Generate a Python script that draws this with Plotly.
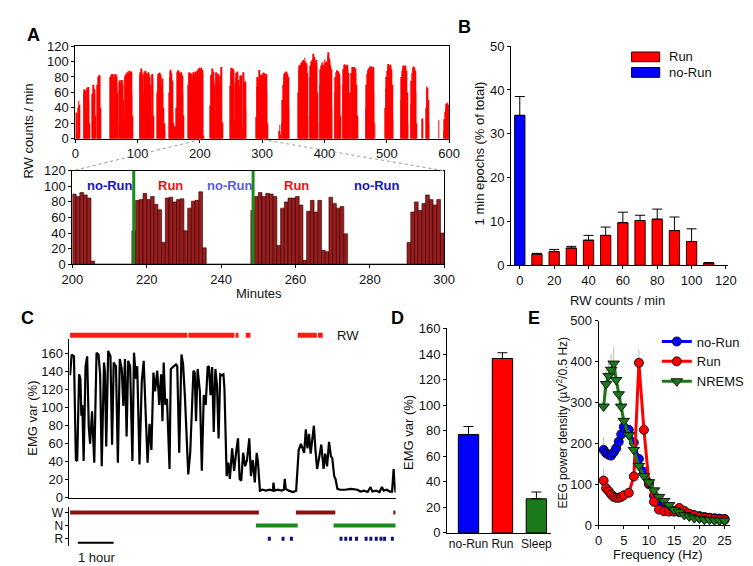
import plotly.graph_objects as go

W, H = 753, 566
FONT = "Liberation Sans, Arial, sans-serif"

# ---------------- A: running-wheel counts per minute (600 min) ----------------
bout_start = [1, 13, 27, 35, 56, 103, 131, 150, 181, 216, 248, 290, 327, 331,
              357, 376, 392, 416, 429, 442, 466, 497, 522, 538, 557, 563, 583, 591]
bout_counts = [
    [34, 30, 5, 40, 49, 44],
    [60, 64, 63, 62, 40, 64, 66, 67, 50, 20],
    [58, 70, 66, 64, 60, 30],
    [70, 80, 82, 82, 83, 40],
    [80, 83, 82, 84, 81, 83, 78, 82, 84, 80, 83, 60, 20, 0, 74, 76, 72, 76, 75, 70,
     76, 50, 30, 80, 82, 84, 86, 83, 87, 85, 88, 84, 86, 87, 60, 30, 0],
    [82, 86, 91, 88, 84, 80, 60, 86, 84, 88, 85, 82, 78, 84, 86, 80, 83, 70, 40, 82, 84, 78, 30],
    [60, 80, 84, 85, 86, 82, 84, 70, 78, 60, 40, 20, 10],
    [60, 80, 88, 90, 85, 75, 35, 20, 15, 14, 16, 15, 40, 86, 89, 88, 85, 87, 84, 80,
     86, 82, 60, 30, 0],
    [70, 84, 86, 85, 82, 84, 80, 83, 86, 82, 84, 87, 84, 86, 88, 85, 90, 87, 92,
     90, 87, 92, 89, 85, 4],
    [43, 82, 83, 91, 83, 87, 77, 70, 28, 85, 86, 80, 83, 84, 43, 72, 81, 82, 93, 21],
    [69, 87, 92, 87, 91, 90, 87, 24, 72, 80, 85, 85, 87, 76, 5, 68, 82, 67, 82, 18,
     16, 86, 78, 72, 74, 39],
    [28, 67, 80, 69, 78, 89, 83, 76, 83, 40, 82, 85, 86, 84, 85, 80, 84, 60, 20],
    [10, 18, 5],
    [20, 50, 70, 80, 84, 86, 85, 87, 86, 84, 80, 40],
    [60, 90, 95, 92, 96, 98, 94, 100, 97, 102, 99, 105, 100, 96, 98, 85, 30],
    [80, 95, 100, 97, 102, 104, 110, 106, 100, 98, 102, 95, 60, 20],
    [70, 90, 95, 98, 92, 100, 96, 94, 103, 98, 100, 95, 97, 108, 112, 104, 100, 95, 90, 40],
    [60, 80, 86, 89, 88, 85, 87, 84, 70, 30],
    [70, 90, 96, 97, 95, 92, 94, 96, 90, 85, 60, 20],
    [60, 85, 93, 90, 92, 93, 88, 91, 85, 70, 30],
    [40, 70, 84, 88, 90, 92, 94, 91, 93, 94, 90, 92, 93, 60, 20],
    [40, 65, 80, 88, 94, 97, 95, 92, 96, 94, 90, 70, 25],
    [50, 80, 88, 92, 95, 91, 93, 95, 90, 88, 60, 20],
    [45, 75, 85, 90, 93, 94, 92, 88, 60, 20],
    [26],
    [40, 68, 66, 50, 20],
    [24],
    [10, 25, 35, 40, 45, 47, 46, 44, 40],
]
minutes = list(range(600))
rw_counts = [0] * 600
for s, vals in zip(bout_start, bout_counts):
    rw_counts[s:s + len(vals)] = vals

zoom_from, zoom_to = 200, 300
run_switch_min = [216.5, 248.6]
state_labels = ["no-Run", "Run", "no-Run", "Run", "no-Run"]
state_label_min = [210, 226.5, 242.3, 260.4, 282]

# ---------------- B: distribution of 1-min epochs ----------------
norun_bin = [0]
norun_pct = [34.2]
norun_err = [4.3]
run_bins = [10, 20, 30, 40, 50, 60, 70, 80, 90, 100, 110]
run_pct = [2.5, 3.1, 3.9, 5.7, 6.8, 9.7, 10.2, 10.5, 7.9, 5.4, 0.5]
run_err = [0.2, 0.5, 0.4, 1.1, 1.9, 2.4, 1.2, 2.3, 3.1, 2.9, 0.1]

# ---------------- C: EMG variance trace, RW bouts, hypnogram ----------------
emg_t = [0, 2.7, 6.5, 8.1, 9.7, 11.9, 15.1, 17.3, 18.9, 20.5, 22.7, 25.9, 28.6, 31.3, 33.5,
         36.8, 40.5, 44.3, 47.6, 50.3, 53, 56.8, 58.4, 60.5, 63.8, 67.6, 70.3, 73, 76.8, 80,
         83.2, 86.5, 89.2, 91.9, 94.6, 97.3, 100.5, 104.3, 107, 110.3, 112.4, 116.2, 120,
         123.2, 127, 129.7, 133, 136.2, 139.5, 142.2, 145.9, 149.2, 152.4, 154.6, 156.7,
         159.4, 162.2, 166.5, 168.6, 173, 177.3, 179.4, 182.7, 186.5, 189.2, 192.4, 194.6,
         197.8, 201.1, 204.3, 206.5, 208.6, 210.8, 213.5, 217.3, 220.5, 223.8, 227, 230.3,
         232.4, 235.1, 237.8, 240.5, 243.2, 245.9, 248.6, 251.3, 254, 256.7, 258.4, 260.5,
         262.1, 264.8, 267.5, 271.3, 274.6, 278.4, 281.1, 283.8, 286.5, 289.7, 293, 296.2,
         300, 302.7, 305.9, 309.2, 312.4, 314.6, 317.8, 322, 328, 334, 339.4, 340.5, 342.1,
         348, 354, 357.8, 359.4, 361, 366, 373, 378.4, 382.7, 386.5, 391.9, 394.6, 397.3,
         400, 402.7, 405.4, 408.1, 410.8, 413.5, 417.3, 420.5, 424.3, 427, 430.2, 433.5,
         436.7, 438.9, 442.1, 444.3, 447.5, 452, 460, 470, 481, 486, 492, 498, 503, 506,
         512, 518, 522, 525, 530, 535, 539, 541.6, 543, 544.8]
emg_v = [136, 159, 157, 93, 42, 41, 137, 132, 91, 103, 41, 146, 157, 78, 60,
         96, 39, 161, 159, 137, 35, 150, 139, 57, 163, 157, 59, 150, 146, 39,
         154, 143, 102, 154, 68, 152, 146, 41, 161, 132, 146, 37, 129,
         152, 75, 39, 82, 53, 139, 118, 141, 103, 137, 85, 150,
         103, 110, 32, 143, 146, 148, 146, 50, 159, 148, 110, 68,
         26, 50, 118, 141, 139, 85, 143, 118, 30, 114, 103, 145,
         146, 114, 145, 73, 143, 125, 66, 137, 136, 137, 121, 64,
         24, 39, 21, 55, 30, 53, 66, 21, 19, 50, 35, 42,
         66, 24, 42, 17, 50, 39, 8, 9, 8, 9, 8, 17, 8,
         9, 8, 9, 21, 10, 8, 6.5, 8, 53, 60, 50, 76, 55,
         71, 49, 64, 80, 53, 32, 46, 59, 32, 49, 35, 62,
         46, 44, 24, 21, 10, 9, 9, 10, 9, 7, 8, 6.5, 12, 7,
         8, 6.5, 12, 8, 9, 7, 7, 32, 18, 6]

rw_seg_start = [0, 198, 277, 294, 381, 415]
rw_seg_end = [196, 275, 282, 302, 413, 423]

wake_start, wake_end = [0, 378, 541], [316, 444, 545]
nrem_start, nrem_end = [311, 441], [381, 545]
rem_start = [331, 354, 368, 451, 459, 467, 477, 493, 501, 510, 518, 524, 537]
rem_end = [336, 359, 373, 456, 464, 472, 482, 498, 506, 515, 523, 529, 542]
scale_bar_min = [13, 73]

# ---------------- D: EMG variance per state ----------------
state_names = ["no-Run", "Run", "Sleep"]
state_emg = [77, 136.5, 26.7]
state_emg_err = [6.3, 4.5, 5.3]
state_colors = ["#0000ff", "#ff0000", "#1a7a1a"]

# ---------------- E: EEG spectra ----------------
freq = [1, 1.5, 2, 2.5, 3, 3.5, 4, 4.5, 5, 6, 7, 8, 9, 10, 11, 12, 13, 14, 15, 16, 17,
        18, 19, 20, 21, 22, 23, 24, 25]
eeg_norun = [184, 176, 172, 170, 178, 188, 204, 222, 240, 233, 202, 162, 130, 100, 72, 55,
             45, 40, 35, 32, 29, 26, 24, 22, 20, 18, 17, 16, 15]
eeg_run = [109, 90, 83, 75, 69, 67, 67, 69, 73, 79, 119, 397, 233, 103, 57, 38, 34, 33, 33,
           42, 35, 28, 24, 20, 18, 17, 15, 14, 13]
eeg_nrem = [290, 345, 365, 380, 395, 355, 320, 290, 255, 220, 184, 145, 120, 105, 85, 69,
            59, 49, 37, 32, 25, 21, 17, 16, 13, 13, 12, 11, 11]
err_norun = [32, 20, 12, 8, 6, 6, 8, 10, 14, 10, 8, 6, 5, 4, 3, 2, 2, 2, 2, 1, 1, 1, 1, 1, 1, 1, 1, 1, 1]
err_run = [30, 15, 10, 8, 6, 5, 5, 5, 6, 6, 10, 33, 20, 8, 4, 3, 2, 2, 2, 2, 2, 1, 1, 1, 1, 1, 1, 1, 1]
err_nrem = [46, 35, 38, 40, 40, 30, 25, 20, 15, 12, 10, 8, 6, 5, 4, 3, 3, 2, 2, 2, 1, 1, 1, 1, 1, 1, 1, 1, 1]

TICK = 13


def fx(px):
    return px / W


def fy(py):
    return 1 - py / H


def axis(dom, rng, size=TICK, **kw):
    d = dict(domain=dom, range=rng, showline=True, linecolor="black", linewidth=1,
             ticks="outside", ticklen=3, tickcolor="black", showgrid=False, zeroline=False,
             tickfont=dict(size=size, color="#111", family=FONT), fixedrange=True)
    d.update(kw)
    return d


def segments(starts, ends, level):
    xs, ys = [], []
    for s, e in zip(starts, ends):
        xs += [s, e, None]
        ys += [level, level, None]
    return xs, ys


fig = go.Figure()

# A top
fig.add_trace(go.Bar(x=minutes, y=rw_counts, width=1, offset=0,
                     marker=dict(color="#ff0000", line=dict(width=0)),
                     xaxis="x", yaxis="y", showlegend=False))
# A bottom (zoom 200-300 min)
fig.add_trace(go.Bar(x=minutes[zoom_from:zoom_to], y=rw_counts[zoom_from:zoom_to], width=1, offset=0,
                     marker=dict(color="#9a1c1c", line=dict(color="#2a0000", width=0.6)),
                     xaxis="x2", yaxis="y2", showlegend=False))

# B
fig.add_trace(go.Bar(x=norun_bin, y=norun_pct, width=6,
                     marker=dict(color="#0000ff", line=dict(color="#000033", width=1)),
                     error_y=dict(type="data", array=norun_err, arrayminus=[0], symmetric=False,
                                  color="black", thickness=1, width=5),
                     xaxis="x3", yaxis="y3", showlegend=False))
fig.add_trace(go.Bar(x=run_bins, y=run_pct, width=6,
                     marker=dict(color="#ff0000", line=dict(color="#3a0000", width=1)),
                     error_y=dict(type="data", array=run_err, arrayminus=[0] * len(run_err),
                                  symmetric=False, color="black", thickness=1, width=5),
                     xaxis="x3", yaxis="y3", showlegend=False))

# C EMG
fig.add_trace(go.Scatter(x=emg_t, y=emg_v, mode="lines", line=dict(color="black", width=2.2),
                         xaxis="x4", yaxis="y4", showlegend=False))
rx, ry = segments(rw_seg_start, rw_seg_end, 0.5)
fig.add_trace(go.Scatter(x=rx, y=ry, mode="lines", line=dict(color="#ff1a1a", width=5),
                         xaxis="x4", yaxis="y5", showlegend=False))
for st, en, lvl, col in [(wake_start, wake_end, 3, "#8b1010"),
                         (nrem_start, nrem_end, 2, "#1a8a1a"),
                         (rem_start, rem_end, 1, "#101080")]:
    hx, hy = segments(st, en, lvl)
    fig.add_trace(go.Scatter(x=hx, y=hy, mode="lines", line=dict(color=col, width=4),
                             xaxis="x4", yaxis="y6", showlegend=False))
fig.add_trace(go.Scatter(x=scale_bar_min, y=[0.7, 0.7], mode="lines",
                         line=dict(color="black", width=2),
                         xaxis="x4", yaxis="y6", showlegend=False))

# D
fig.add_trace(go.Bar(x=[0, 1, 2], y=state_emg, width=0.6,
                     marker=dict(color=state_colors, line=dict(color="black", width=1)),
                     error_y=dict(type="data", array=state_emg_err, arrayminus=[0, 0, 0],
                                  symmetric=False, color="black", thickness=1, width=5),
                     xaxis="x5", yaxis="y7", showlegend=False))

# E
for name, vals, err, col, sym in [("no-Run", eeg_norun, err_norun, "#0000ff", "circle"),
                                  ("Run", eeg_run, err_run, "#ff0000", "circle"),
                                  ("NREMS", eeg_nrem, err_nrem, "#1a7a1a", "triangle-down")]:
    fig.add_trace(go.Scatter(x=freq, y=vals, name=name, mode="lines+markers",
                             line=dict(color=col, width=3),
                             marker=dict(symbol=sym, size=9 if sym == "circle" else 10, color=col,
                                         line=dict(color="#111", width=1)),
                             error_y=dict(type="data", array=err, arrayminus=[0] * len(err),
                                          symmetric=False, color="#bbbbbb", thickness=1, width=0),
                             xaxis="x6", yaxis="y8", showlegend=True))

shapes = []
# zoom guide lines between A top and A bottom
for x0, x1 in [(187, 55), (251, 438)]:
    shapes.append(dict(type="line", xref="paper", yref="paper", x0=fx(x0), y0=fy(128),
                       x1=fx(x1), y1=fy(160), line=dict(color="#999", width=1, dash="dot")))
for m in run_switch_min:
    shapes.append(dict(type="line", xref="x2", yref="y2", x0=m, x1=m, y0=0, y1=120,
                       line=dict(color="#1a8a1a", width=3)))
# B legend swatches
for py, col, ln in [(43, "#ff0000", "#3a0000"), (59, "#0000ff", "#000033")]:
    shapes.append(dict(type="rect", xref="paper", yref="paper", x0=fx(631), x1=fx(660),
                       y0=fy(py + 5), y1=fy(py - 5), fillcolor=col, line=dict(color=ln, width=1)))

ann = []
def text(px, py, s, size=13, color="#111", bold=False, angle=0, xanchor="center"):
    ann.append(dict(x=fx(px), y=fy(py), xref="paper", yref="paper", text=("<b>%s</b>" % s) if bold else s,
                    showarrow=False, textangle=angle, xanchor=xanchor, yanchor="middle",
                    font=dict(size=size, color=color, family=FONT)))

for lbl, m in zip(state_labels, state_label_min):
    col = "#ee1111" if lbl == "Run" else "#1414c8"
    ann.append(dict(x=m, y=101, xref="x2", yref="y2", text="<b>%s</b>" % lbl, showarrow=False,
                    font=dict(size=13, color=col, family=FONT)))
ann[2]["font"]["color"] = "#5a5ae6"

text(15, 21, "A", 18, "black", True)
text(459, 12, "B", 18, "black", True)
text(9, 311, "C", 18, "black", True)
text(390, 311, "D", 18, "black", True)
text(531, 311, "E", 18, "black", True)
text(10, 119, "RW counts / min", angle=-90)
text(247, 286, "Minutes")
text(474, 142, "1 min epochs (% of total)", angle=-90)
text(617, 293, "RW counts / min")
text(668, 43, "Run", xanchor="left")
text(668, 59, "no-Run", xanchor="left")
text(13, 414, "EMG var (%)", angle=-90)
text(325, 329, "RW", xanchor="left")
text(80, 557, "1 hour")
text(401, 429, "EMG var (%)", angle=-90)
text(559, 419, "EEG power density (µV<sup>2</sup>/0.5 Hz)", 12, angle=-90)
text(658, 554, "Frequency (Hz)")

layout = dict(
    width=W, height=H, margin=dict(l=0, r=0, t=0, b=0), paper_bgcolor="white",
    plot_bgcolor="rgba(0,0,0,0)", font=dict(family=FONT, size=13, color="#111"),
    barmode="overlay", shapes=shapes, annotations=ann,
    legend=dict(x=fx(657), y=fy(320), xanchor="left", yanchor="top", bgcolor="rgba(0,0,0,0)",
                font=dict(size=13, family=FONT), tracegroupgap=0, itemwidth=30),
    xaxis=axis([fx(58), fx(443)], [0, 600], anchor="y", mirror=True, tickvals=list(range(0, 601, 100))),
    yaxis=axis([fy(127), fy(32)], [0, 120], anchor="x", mirror=True, tickvals=list(range(0, 121, 20))),
    xaxis2=axis([fx(55), fx(438)], [zoom_from, zoom_to], anchor="y2", mirror=True,
                tickvals=list(range(200, 301, 20))),
    yaxis2=axis([fy(256), fy(160)], [0, 120], anchor="x2", mirror=True, tickvals=list(range(0, 121, 20))),
    xaxis3=axis([fx(507), fx(730)], [-5, 121], anchor="y3", tickvals=list(range(0, 121, 20))),
    yaxis3=axis([fy(257), fy(32)], [0, 50], anchor="x3", tickvals=list(range(0, 51, 10))),
    xaxis4=axis([fx(52), fx(388)], [-1, 545], anchor="y4", ticks="", showticklabels=False),
    yaxis4=axis([fy(496), fy(333)], [0, 176], anchor="x4", tickvals=list(range(0, 161, 20))),
    yaxis5=axis([fy(334), fy(324)], [0, 1], anchor="x4", showline=False, ticks="", showticklabels=False),
    yaxis6=axis([fy(545), fy(505)], [0.48, 3.44], size=12, anchor="x4", tickvals=[3, 2, 1],
                ticktext=["W", "N", "R"]),
    xaxis5=axis([fx(441), fx(548)], [-0.63, 2.43], size=12, anchor="y7", tickvals=[0, 1, 2],
                ticktext=state_names, ticks="", tickangle=0),
    yaxis7=axis([fy(532), fy(322)], [0, 160], anchor="x5", tickvals=list(range(0, 161, 20))),
    xaxis6=axis([fx(597), fx(732)], [0, 26], anchor="y8", tickvals=[0, 5, 10, 15, 20, 25]),
    yaxis8=axis([fy(524), fy(314)], [0, 500], anchor="x6", tickvals=list(range(0, 501, 100))),
)
fig.update_layout(layout)
fig.write_html("out.html")
